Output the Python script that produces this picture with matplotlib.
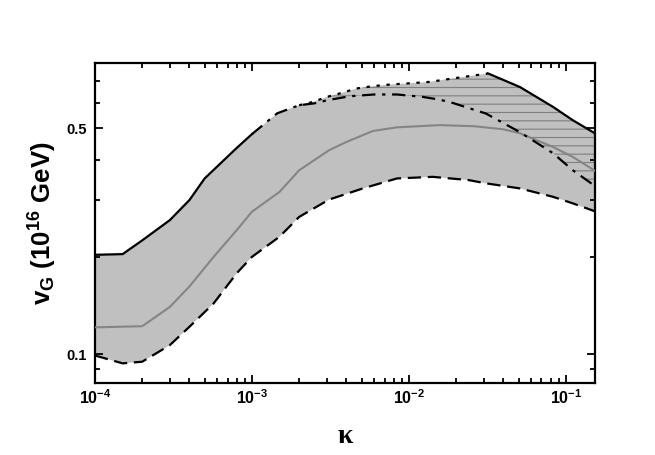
import numpy as np
import matplotlib
matplotlib.use('Agg')
import matplotlib.pyplot as plt
from matplotlib.ticker import FixedLocator, NullFormatter

plt.rcParams['font.family'] = 'Liberation Sans'
plt.rcParams['font.weight'] = 'bold'
plt.rcParams['mathtext.fontset'] = 'custom'
plt.rcParams['mathtext.rm'] = 'Liberation Sans:bold'
plt.rcParams['mathtext.bf'] = 'Liberation Sans:bold'
plt.rcParams['mathtext.it'] = 'Liberation Sans:bold'
plt.rcParams['hatch.linewidth'] = 0.8

# upper bound, solid (small kappa)
up_lo_k = [1e-4, 1.5e-4, 2e-4, 3e-4, 4e-4, 5e-4, 8e-4, 1e-3]
up_lo_v = [0.203, 0.204, 0.225, 0.26, 0.30, 0.35, 0.435, 0.48]

# dash-dot curve
dd_k = [1e-3, 1.45e-3, 2e-3, 2.5e-3, 3e-3, 4.2e-3, 6e-3, 8.4e-3, 1.23e-2,
        1.57e-2, 1.9e-2, 3.1e-2, 5.1e-2, 8.3e-2, 0.111, 0.153]
dd_v = [0.48, 0.557, 0.59, 0.598, 0.611, 0.629, 0.637, 0.637, 0.626,
        0.614, 0.600, 0.556, 0.487, 0.419, 0.371, 0.332]

# dotted upper bound
dot_k = [2e-3, 2.45e-3, 3e-3, 3.6e-3, 4.65e-3, 5.9e-3, 7.6e-3, 9.7e-3,
         1.36e-2, 1.9e-2, 3.2e-2]
dot_v = [0.59, 0.604, 0.626, 0.641, 0.665, 0.676, 0.684, 0.689,
         0.697, 0.714, 0.74]

# upper bound, solid (large kappa)
up_hi_k = [3.2e-2, 5.1e-2, 8.3e-2, 0.111, 0.149, 0.153]
up_hi_v = [0.74, 0.672, 0.583, 0.530, 0.487, 0.483]

# grey central curve
mid_k = [1e-4, 2e-4, 3e-4, 4e-4, 5.7e-4, 8e-4, 1e-3, 1.5e-3, 2e-3, 3.1e-3,
         4e-3, 5.9e-3, 8.4e-3, 1.57e-2, 2.6e-2, 4e-2, 5.1e-2, 8.3e-2, 0.111, 0.153]
mid_v = [0.121, 0.122, 0.140, 0.162, 0.200, 0.242, 0.276, 0.318, 0.371, 0.428,
         0.454, 0.491, 0.504, 0.512, 0.508, 0.497, 0.483, 0.438, 0.408, 0.37]

# lower bound, dashed
low_k = [1e-4, 1.5e-4, 2e-4, 3e-4, 4e-4, 5.7e-4, 8e-4, 1e-3, 1.5e-3, 2e-3,
         3.1e-3, 5.1e-3, 8.4e-3, 1.42e-2, 2.4e-2, 3.1e-2, 5.1e-2, 8.3e-2, 0.111, 0.153]
low_v = [0.099, 0.0936, 0.0947, 0.1066, 0.1215, 0.1435, 0.178, 0.200, 0.231, 0.266,
         0.301, 0.326, 0.350, 0.354, 0.346, 0.338, 0.326, 0.307, 0.293, 0.277]

fig = plt.figure(figsize=(6.55, 4.55), dpi=100)
ax = fig.add_axes([0.145, 0.158, 0.763, 0.703])
ax.set_xscale('log')
ax.set_yscale('log')

# grey band: outer upper envelope down to the dashed curve
env_k = up_lo_k + dd_k[1:3] + dot_k[1:] + up_hi_k[1:]
env_v = up_lo_v + dd_v[1:3] + dot_v[1:] + up_hi_v[1:]
ax.fill(env_k + low_k[::-1], env_v + low_v[::-1],
        facecolor='#c0c0c0', edgecolor='none', zorder=1)

# hatched part between the dotted/solid bound and the dash-dot curve
hat_k = dot_k + up_hi_k[1:]
hat_v = dot_v + up_hi_v[1:]
ax.fill(hat_k + dd_k[2:][::-1], hat_v + dd_v[2:][::-1],
        facecolor='none', edgecolor='#808080', hatch='--', linewidth=0, zorder=2)

ax.plot(mid_k, mid_v, color='#858585', lw=1.5, zorder=3)
ax.plot(up_lo_k, up_lo_v, color='black', lw=1.6, zorder=4)
ax.plot(up_hi_k, up_hi_v, color='black', lw=1.6, zorder=4)
ax.plot(dd_k, dd_v, color='black', lw=1.6, dashes=(6, 3, 1.5, 3), zorder=4)
ax.plot(dot_k, dot_v, color='black', lw=1.6, dashes=(1.5, 3), zorder=4)
ax.plot(low_k, low_v, color='black', lw=1.6, dashes=(6, 3), zorder=4)

ax.set_xlim(1e-4, 0.153)
ax.set_ylim(0.0813, 0.796)

ax.xaxis.set_major_locator(FixedLocator([1e-4, 1e-3, 1e-2, 1e-1]))
ax.set_xticklabels([r'$\mathbf{10^{-4}}$', r'$\mathbf{10^{-3}}$',
                    r'$\mathbf{10^{-2}}$', r'$\mathbf{10^{-1}}$'])
ax.yaxis.set_major_locator(FixedLocator([0.1, 0.5]))
ax.yaxis.set_minor_locator(FixedLocator([0.09, 0.2, 0.3, 0.4, 0.6, 0.7]))
ax.set_yticklabels(['0.1', '0.5'])
ax.yaxis.set_minor_formatter(NullFormatter())

ax.tick_params(which='both', direction='in', top=True, right=True, width=1.3)
ax.tick_params(axis='x', labelsize=11.5, pad=4)
ax.tick_params(axis='y', labelsize=10.5, pad=6)
ax.tick_params(which='major', length=6)
ax.tick_params(which='minor', length=3.5)
for s in ax.spines.values():
    s.set_linewidth(1.6)

ax.set_ylabel(r'$\mathbf{v_G\ (10^{16}\ GeV)}$', fontsize=18.5, labelpad=5)
ax.set_xlabel('κ', fontsize=20, family='Liberation Serif', weight='bold',
              labelpad=12)

fig.savefig('out.png', dpi=100)
